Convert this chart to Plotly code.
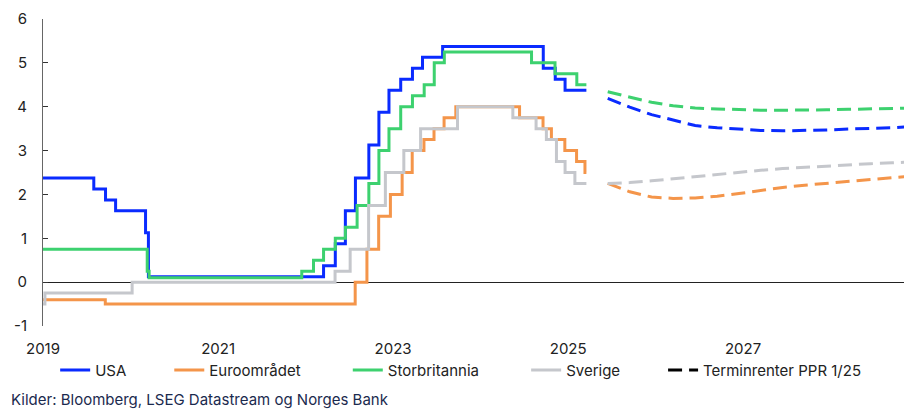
import plotly.graph_objects as go

NB = "\u00a0"

# ---- Policy rates (step data) ----
usa_dates = ["2019-01-01", "2019-08-01", "2019-09-19", "2019-10-31", "2020-03-04", "2020-03-16",
             "2022-03-17", "2022-05-05", "2022-06-16", "2022-07-28", "2022-09-22", "2022-11-03",
             "2022-12-15", "2023-02-02", "2023-03-23", "2023-05-04", "2023-07-27", "2024-09-19",
             "2024-11-08", "2024-12-19", "2025-03-18"]
usa_vals = [2.375, 2.125, 1.875, 1.625, 1.125, 0.125,
            0.375, 0.875, 1.625, 2.375, 3.125, 3.875,
            4.375, 4.625, 4.875, 5.125, 5.375, 4.875,
            4.625, 4.375, 4.375]

euro_dates = ["2019-01-01", "2019-09-18", "2022-07-27", "2022-09-14", "2022-11-02", "2022-12-21",
              "2023-02-08", "2023-03-22", "2023-05-10", "2023-06-21", "2023-08-02", "2023-09-20",
              "2024-06-12", "2024-09-18", "2024-10-23", "2024-12-18", "2025-02-05", "2025-03-12",
              "2025-03-18"]
euro_vals = [-0.40, -0.50, 0.00, 0.75, 1.50, 2.00,
             2.50, 3.00, 3.25, 3.50, 3.75, 4.00,
             3.75, 3.50, 3.25, 3.00, 2.75, 2.50,
             2.50]

uk_dates = ["2019-01-01", "2020-03-11", "2020-03-19", "2021-12-16", "2022-02-03", "2022-03-17",
            "2022-05-05", "2022-06-16", "2022-08-04", "2022-09-22", "2022-11-03", "2022-12-15",
            "2023-02-02", "2023-03-23", "2023-05-11", "2023-06-22", "2023-08-03", "2024-08-01",
            "2024-11-07", "2025-02-06", "2025-03-18"]
uk_vals = [0.75, 0.25, 0.10, 0.25, 0.50, 0.75,
           1.00, 1.25, 1.75, 2.25, 3.00, 3.50,
           4.00, 4.25, 4.50, 5.00, 5.25, 5.00,
           4.75, 4.50, 4.50]

se_dates = ["2019-01-01", "2019-01-09", "2020-01-08", "2022-05-04", "2022-07-06", "2022-09-21",
            "2022-11-30", "2023-02-15", "2023-04-26", "2023-09-27", "2024-05-15", "2024-08-20",
            "2024-10-02", "2024-11-13", "2024-12-19", "2025-01-29", "2025-03-18"]
se_vals = [-0.50, -0.25, 0.00, 0.25, 0.75, 1.75,
           2.50, 3.00, 3.50, 4.00, 3.75, 3.50,
           3.25, 2.75, 2.50, 2.25, 2.25]

# ---- Forward rates (PPR 1/25) ----
fwd_dates = ["2025-06-15", "2025-09-15", "2025-12-15", "2026-03-15", "2026-06-15", "2026-09-15",
             "2026-12-15", "2027-03-15", "2027-06-15", "2027-09-15", "2027-12-15", "2028-03-15",
             "2028-06-15", "2028-09-15", "2028-12-06"]
usa_fwd = [4.19, 3.99, 3.82, 3.69, 3.57, 3.52, 3.49, 3.46, 3.45, 3.455, 3.47, 3.49, 3.50, 3.52, 3.55]
uk_fwd = [4.34, 4.22, 4.10, 4.02, 3.97, 3.95, 3.93, 3.92, 3.92, 3.92, 3.93, 3.94, 3.95, 3.96, 3.97]
se_fwd = [2.25, 2.27, 2.31, 2.36, 2.41, 2.46, 2.51, 2.55, 2.59, 2.62, 2.65, 2.68, 2.70, 2.72, 2.74]
euro_fwd = [2.25, 2.06, 1.94, 1.91, 1.92, 1.96, 2.02, 2.09, 2.16, 2.21, 2.25, 2.30, 2.34, 2.38, 2.42]

# ---- Axis tick labels ----
y_tickvals = [-1, 0, 1, 2, 3, 4, 5, 6]
y_ticktext = ["-1", "0", "1", "2", "3", "4", "5", "6"]

names = ["USA", "Euroområdet", "Storbritannia", "Sverige"]
fwd_name = "Terminrenter PPR 1/25"
colors = ["#0a2bff", "#f4954a", "#3dd16f", "#c5c7cc"]
pads = [9, 10, 10, 9]

FONT = "Inter, 'Open Sans', sans-serif"
DASH = "14px,7px"

fig = go.Figure()

series = [(usa_dates, usa_vals, usa_fwd), (euro_dates, euro_vals, euro_fwd),
          (uk_dates, uk_vals, uk_fwd), (se_dates, se_vals, se_fwd)]

for (d, v, f), name, col, p in zip(series, names, colors, pads):
    fig.add_trace(go.Scatter(x=d, y=v, mode="lines", name=name + NB * p,
                             line=dict(color=col, width=3, shape="hv")))

for (d, v, f), name, col in zip(series, names, colors):
    fig.add_trace(go.Scatter(x=fwd_dates, y=f, mode="lines", showlegend=False,
                             line=dict(color=col, width=3, dash=DASH)))

fig.add_trace(go.Scatter(x=[None], y=[None], mode="lines", name=fwd_name,
                         line=dict(color="black", width=3, dash=DASH)))

fig.update_layout(
    width=904, height=402,
    margin=dict(l=35, r=0, t=11, b=84, autoexpand=False),
    paper_bgcolor="white", plot_bgcolor="white",
    font=dict(family=FONT, size=15, color="#222222"),
    showlegend=True,
    legend=dict(orientation="h", x=0.014, y=-0.09, xanchor="left", yanchor="top",
                font=dict(family=FONT, size=15, color="#222222"),
                itemwidth=30, bgcolor="rgba(0,0,0,0)"),
    xaxis=dict(type="date", range=["2019-01-01", "2028-12-06"],
               tick0="2019-01-01", dtick="M24", tickformat="%Y",
               showgrid=False, zeroline=False, showline=False, ticks="",
               ticklabelstandoff=12,
               tickfont=dict(family=FONT, size=15, color="#222222")),
    yaxis=dict(range=[-1, 6], tickmode="array", tickvals=y_tickvals, ticktext=y_ticktext,
               showgrid=False,
               zeroline=True, zerolinecolor="#222222", zerolinewidth=1,
               showline=True, linecolor="#666666", linewidth=1,
               ticks="inside", ticklen=5, tickcolor="#333333",
               ticklabelstandoff=12, ticklabeloverflow="allow",
               tickfont=dict(family=FONT, size=15, color="#222222")),
    annotations=[dict(text="Kilder: Bloomberg, LSEG Datastream og Norges Bank",
                      xref="paper", yref="paper", x=-0.039, y=-0.241,
                      xanchor="left", yanchor="middle", showarrow=False,
                      font=dict(family=FONT, size=15, color="#1b2a4e"))],
)

fig.write_html("out.html")
